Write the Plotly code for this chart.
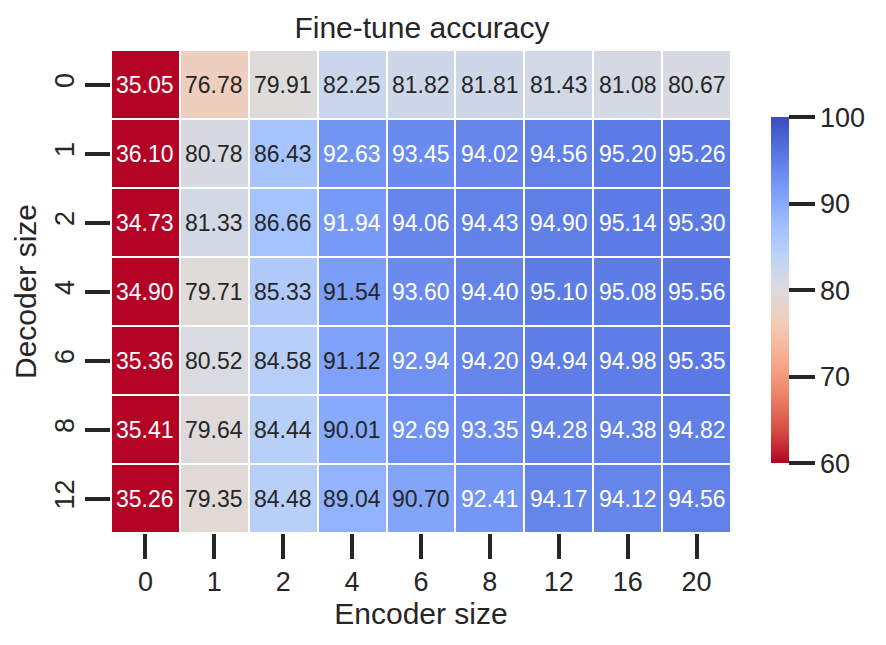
import plotly.graph_objects as go

encoder_sizes = ["0", "1", "2", "4", "6", "8", "12", "16", "20"]
decoder_sizes = ["0", "1", "2", "4", "6", "8", "12"]

acc_dec0 = [35.05, 76.78, 79.91, 82.25, 81.82, 81.81, 81.43, 81.08, 80.67]
acc_dec1 = [36.10, 80.78, 86.43, 92.63, 93.45, 94.02, 94.56, 95.20, 95.26]
acc_dec2 = [34.73, 81.33, 86.66, 91.94, 94.06, 94.43, 94.90, 95.14, 95.30]
acc_dec4 = [34.90, 79.71, 85.33, 91.54, 93.60, 94.40, 95.10, 95.08, 95.56]
acc_dec6 = [35.36, 80.52, 84.58, 91.12, 92.94, 94.20, 94.94, 94.98, 95.35]
acc_dec8 = [35.41, 79.64, 84.44, 90.01, 92.69, 93.35, 94.28, 94.38, 94.82]
acc_dec12 = [35.26, 79.35, 84.48, 89.04, 90.70, 92.41, 94.17, 94.12, 94.56]

z = [acc_dec0, acc_dec1, acc_dec2, acc_dec4, acc_dec6, acc_dec8, acc_dec12]

# coolwarm reversed: 60 -> red, 100 -> blue
coolwarm_r = [
    [0.0, "#b40426"], [0.1, "#d65244"], [0.2, "#ee8468"], [0.3, "#f7ac8e"],
    [0.4, "#f2cbb7"], [0.5, "#dddcdc"], [0.6, "#bcd2f7"], [0.7, "#9abbff"],
    [0.8, "#779af7"], [0.9, "#5673e0"], [1.0, "#3b4cc0"],
]

FONT = "Liberation Sans, Arial, sans-serif"
INK = "#262626"

# numeric positions, labels go in as tick text (numeric-looking category strings confuse annotations)
xs = list(range(len(encoder_sizes)))
ys = list(range(len(decoder_sizes)))

fig = go.Figure(
    go.Heatmap(
        z=z,
        x=xs,
        y=ys,
        zmin=60,
        zmax=100,
        colorscale=coolwarm_r,
        xgap=2,
        ygap=2,
        hoverinfo="skip",
        colorbar=dict(
            thickness=18,
            lenmode="pixels",
            len=346,
            ypad=0,
            xpad=0,
            x=1.0645,
            xanchor="left",
            y=0.503,
            yanchor="middle",
            outlinewidth=0,
            ticks="outside",
            ticklen=26,
            tickwidth=4,
            tickcolor=INK,
            tickvals=[60, 70, 80, 90, 100],
            tickfont=dict(family=FONT, size=27, color=INK),
        ),
    )
)

annotations = []
for i, row in enumerate(z):
    for j, v in enumerate(row):
        light = v < 50 or v > 91.7
        annotations.append(
            dict(
                x=xs[j],
                y=ys[i],
                text=f"{v:.2f}",
                showarrow=False,
                font=dict(family=FONT, size=23, color="white" if light else INK),
            )
        )

# page body adds 8px offset, so the figure is drawn 8px smaller
fig.update_layout(
    width=878,
    height=637,
    margin=dict(l=103, r=155, t=42, b=112, autoexpand=False),
    paper_bgcolor="white",
    plot_bgcolor="white",
    annotations=annotations,
    title=dict(
        text="Fine-tune accuracy",
        x=0.4715,
        xanchor="center",
        y=0.970,
        yanchor="middle",
        font=dict(family=FONT, size=30, color=INK),
    ),
)
fig.update_xaxes(
    range=[-0.5, len(xs) - 0.5],
    tickvals=xs,
    ticktext=encoder_sizes,
    ticks="outside",
    ticklen=25,
    tickwidth=4,
    tickcolor=INK,
    showgrid=False,
    zeroline=False,
    showline=False,
    tickfont=dict(family=FONT, size=27, color=INK),
    title=dict(text="Encoder size", font=dict(family=FONT, size=30, color=INK), standoff=2),
)
fig.update_yaxes(
    range=[len(ys) - 0.5, -0.5],
    tickvals=ys,
    ticktext=decoder_sizes,
    ticks="outside",
    ticklen=25,
    tickwidth=4,
    tickcolor=INK,
    tickangle=-90,
    showgrid=False,
    zeroline=False,
    showline=False,
    tickfont=dict(family=FONT, size=27, color=INK),
    title=dict(text="Decoder size", font=dict(family=FONT, size=30, color=INK), standoff=4),
)

fig.write_html("out.html")
